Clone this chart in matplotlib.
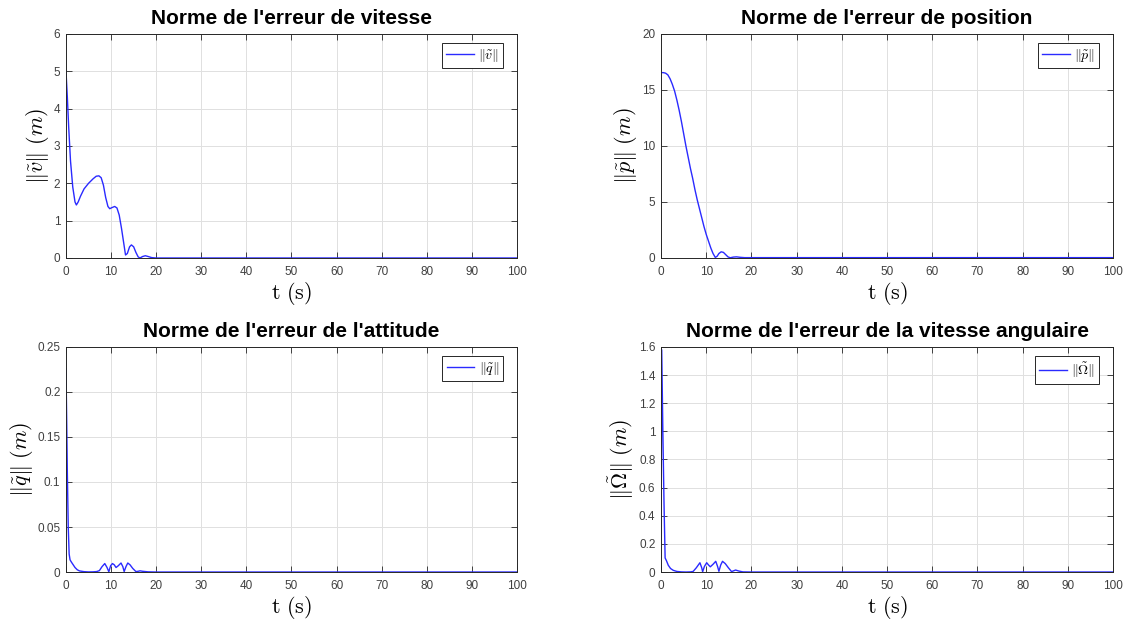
import matplotlib
matplotlib.use("Agg")
import matplotlib.pyplot as plt

plt.rcParams["mathtext.fontset"] = "cm"
plt.rcParams["font.family"] = ["Liberation Sans", "DejaVu Sans"]

# Velocity error norm
t_v = [0, 0.3, 0.6, 1.0, 1.5, 2.0, 2.3, 2.7, 3.2, 4, 5, 6, 6.7, 7.3, 7.8, 8.3, 8.8,
       9.3, 9.7, 10.2, 10.8, 11.3, 11.8, 12.3, 12.8, 13.2, 13.6, 14.1, 14.5, 15.0,
       15.5, 16.0, 16.4, 17.0, 17.6, 18.2, 19, 20, 22, 100]
v_err = [5.0, 4.3, 3.5, 2.6, 1.9, 1.5, 1.42, 1.5, 1.65, 1.85, 2.0, 2.12, 2.19, 2.2,
         2.15, 1.95, 1.62, 1.38, 1.32, 1.35, 1.38, 1.34, 1.15, 0.8, 0.4, 0.08, 0.12,
         0.3, 0.35, 0.3, 0.15, 0.03, 0.0, 0.04, 0.06, 0.04, 0.01, 0.0, 0.0, 0.0]

# Position error norm
t_p = [0, 0.5, 1.0, 1.5, 2.0, 2.5, 3.0, 3.5, 4.0, 4.5, 5.0, 5.5, 6.0, 6.5, 7.0, 7.5,
       8.0, 8.5, 9.0, 9.5, 10.0, 10.5, 11.0, 11.5, 12.0, 12.4, 12.8, 13.3, 13.8,
       14.3, 14.8, 15.3, 16.0, 16.7, 17.5, 18.5, 20, 100]
p_err = [16.55, 16.55, 16.5, 16.35, 16.0, 15.5, 14.9, 14.1, 13.2, 12.2, 11.1, 10.0,
         9.0, 8.0, 7.1, 6.1, 5.2, 4.4, 3.6, 2.8, 2.1, 1.5, 0.9, 0.4, 0.05, 0.15, 0.4,
         0.55, 0.5, 0.3, 0.1, 0.02, 0.08, 0.1, 0.06, 0.03, 0.03, 0.03]

# Attitude error norm
t_q = [0, 0.15, 0.3, 0.5, 0.7, 0.9, 1.2, 1.6, 2.0, 2.5, 3.0, 4, 5, 6, 6.8, 7.4, 8.0,
       8.6, 9.1, 9.5, 9.9, 10.3, 10.7, 11.1, 11.6, 12.2, 12.6, 12.9, 13.3, 13.7,
       14.2, 14.8, 15.5, 16.0, 16.4, 17.0, 18.2, 20, 100]
q_err = [0.226, 0.17, 0.11, 0.05, 0.02, 0.0135, 0.011, 0.008, 0.005, 0.0025, 0.0012,
         0.0004, 0.0001, 0.0002, 0.0005, 0.0015, 0.006, 0.0094, 0.005, 0.0003, 0.007,
         0.0094, 0.008, 0.005, 0.007, 0.0100, 0.006, 0.0005, 0.006, 0.0100, 0.008,
         0.004, 0.0005, 0.0008, 0.0013, 0.0008, 0.0002, 0.0, 0.0]

# Angular velocity error norm
t_w = [0, 0.15, 0.4, 0.65, 0.9, 1.2, 1.6, 2.1, 2.7, 3.5, 4.5, 5.5, 6.5, 7.1, 7.8,
       8.6, 9.0, 9.2, 9.6, 10.1, 10.5, 10.9, 11.5, 12.1, 12.5, 12.8, 13.2, 13.6,
       14.2, 14.9, 15.6, 16.0, 16.5, 17.2, 18.1, 20, 100]
w_err = [0.23, 1.58, 1.0, 0.5, 0.1, 0.08, 0.048, 0.025, 0.012, 0.004, 0.001, 0.0,
         0.001, 0.004, 0.03, 0.066, 0.03, 0.002, 0.04, 0.066, 0.05, 0.037, 0.055,
         0.076, 0.04, 0.005, 0.05, 0.076, 0.06, 0.03, 0.003, 0.008, 0.014, 0.007,
         0.001, 0.0, 0.0]

panels = [
    dict(t=t_v, y=v_err, title="Norme de l'erreur de vitesse",
         ylabel=r"$\Vert\tilde{v}\Vert\ (m)$", leg=r"$\Vert\tilde{v}\Vert$",
         ylim=(0, 6), yticks=[0, 1, 2, 3, 4, 5, 6], ytl=["0", "1", "2", "3", "4", "5", "6"],
         rect=[0.0584, 0.5839, 0.3991, 0.3613]),
    dict(t=t_p, y=p_err, title="Norme de l'erreur de position",
         ylabel=r"$\Vert\tilde{p}\Vert\ (m)$", leg=r"$\Vert\tilde{p}\Vert$",
         ylim=(0, 20), yticks=[0, 5, 10, 15, 20], ytl=["0", "5", "10", "15", "20"],
         rect=[0.585, 0.5839, 0.400, 0.3613]),
    dict(t=t_q, y=q_err, title="Norme de l'erreur de l'attitude",
         ylabel=r"$\Vert\tilde{q}\Vert\ (m)$", leg=r"$\Vert\tilde{q}\Vert$",
         ylim=(0, 0.25), yticks=[0, 0.05, 0.1, 0.15, 0.2, 0.25],
         ytl=["0", "0.05", "0.1", "0.15", "0.2", "0.25"],
         rect=[0.0584, 0.0774, 0.3991, 0.363]),
    dict(t=t_w, y=w_err, title="Norme de l'erreur de la vitesse angulaire",
         ylabel=r"$\Vert\tilde{\Omega}\Vert\ (m)$", leg=r"$\Vert\tilde{\Omega}\Vert$",
         ylim=(0, 1.6), yticks=[0, 0.2, 0.4, 0.6, 0.8, 1.0, 1.2, 1.4, 1.6],
         ytl=["0", "0.2", "0.4", "0.6", "0.8", "1", "1.2", "1.4", "1.6"],
         rect=[0.585, 0.0774, 0.400, 0.363]),
]

xticks = list(range(0, 101, 10))
tick_col = "#404040"

fig = plt.figure(figsize=(11.3, 6.2), dpi=100)
fig.patch.set_facecolor("white")

for pnl in panels:
    ax = fig.add_axes(pnl["rect"])
    ax.plot(pnl["t"], pnl["y"], color="#2a2aff", lw=1.0, label=pnl["leg"])
    ax.set_xlim(0, 100)
    ax.set_ylim(*pnl["ylim"])
    ax.set_xticks(xticks)
    ax.set_xticklabels([str(x) for x in xticks])
    ax.set_yticks(pnl["yticks"])
    ax.set_yticklabels(pnl["ytl"])
    ax.grid(True, color="#e0e0e0", lw=0.7)
    ax.set_axisbelow(True)
    ax.tick_params(direction="in", top=True, right=True, length=4, width=0.6,
                   color="#262626", labelcolor=tick_col, labelsize=8.5)
    ax.tick_params(axis="x", pad=6)
    ax.tick_params(axis="y", pad=4)
    for s in ax.spines.values():
        s.set_color("#262626")
        s.set_linewidth(0.7)
    ax.set_title(pnl["title"], fontsize=15, fontweight="bold", pad=7)
    ax.set_xlabel(r"$\mathrm{t}\ (\mathrm{s})$", fontsize=16, labelpad=1)
    ax.set_ylabel(pnl["ylabel"], fontsize=16, labelpad=2)
    w_px = pnl["rect"][2] * 1130
    h_px = pnl["rect"][3] * 620
    leg = ax.legend(loc="upper right", fontsize=10, fancybox=False, framealpha=1,
                    edgecolor="#262626", handlelength=2.0, borderpad=0.3,
                    handletextpad=0.3, borderaxespad=0,
                    bbox_to_anchor=(1 - 14 / w_px, 1 - 9 / h_px))
    leg.get_frame().set_linewidth(0.7)

fig.savefig("out.png", dpi=100, facecolor="white")
